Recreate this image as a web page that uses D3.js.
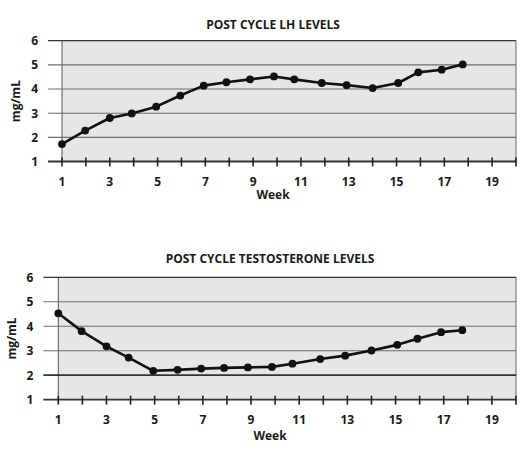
<!DOCTYPE html>
<html>
<head>
<meta charset="utf-8">
<script src="https://cdn.jsdelivr.net/npm/d3@7"></script>
<style>
  body { margin: 0; background: #fff; }
  text { font-family: 'Open Sans', 'Noto Sans', sans-serif; font-weight: 700; fill: #1a1a1a; }
</style>
</head>
<body>
<div id="chart"></div>
<script>
// Week position of each reading (points sit slightly off the tick marks)
const weeks = [1, 1.97, 3, 3.92, 4.94, 5.95, 6.93, 7.88, 8.87, 9.87, 10.72, 11.87, 12.91, 14.0, 15.07, 15.91, 16.89, 17.77]
const lhValues = [1.72, 2.28, 2.8, 2.99, 3.27, 3.73, 4.14, 4.28, 4.4, 4.52, 4.4, 4.25, 4.16, 4.04, 4.25, 4.69, 4.8, 5.02]
const testosteroneValues = [4.53, 3.8, 3.18, 2.72, 2.18, 2.22, 2.27, 2.3, 2.32, 2.34, 2.47, 2.66, 2.8, 3.01, 3.24, 3.49, 3.76, 3.84]
const yTicks = [1, 2, 3, 4, 5, 6]
const xTickMarks = d3.range(1, 21)
const xTickLabels = [1, 3, 5, 7, 9, 11, 13, 15, 17, 19]

const width = 529
const height = 453

const svg = d3.select('#chart')
  .append('svg')
  .attr('width', width)
  .attr('height', height)

const panels = [
  {
    title: 'POST CYCLE LH LEVELS', values: lhValues,
    left: 62, right: 516, top: 40.7, bottom: 161.5, tickLeft: 48,
    titleX: 273, titleY: 29, tickLabelY: 186, weekY: 199, yTitleX: 20, darkLine: null
  },
  {
    title: 'POST CYCLE TESTOSTERONE LEVELS', values: testosteroneValues,
    left: 58.3, right: 516, top: 277.3, bottom: 399.7, tickLeft: 43.3,
    titleX: 270, titleY: 263, tickLabelY: 424, weekY: 440, yTitleX: 16, darkLine: 2
  }
]

panels.forEach(p => {
  const x = d3.scaleLinear().domain([1, 20]).range([p.left, p.right])
  const y = d3.scaleLinear().domain([1, 6]).range([p.bottom, p.top])
  const g = svg.append('g')

  // Plot background
  g.append('rect')
    .attr('x', p.left)
    .attr('y', p.top)
    .attr('width', p.right - p.left)
    .attr('height', p.bottom - p.top)
    .attr('fill', '#e6e6e6')

  // Right and left borders
  g.append('line')
    .attr('x1', p.right).attr('x2', p.right)
    .attr('y1', p.top).attr('y2', p.bottom)
    .attr('stroke', '#666').attr('stroke-width', 1)
  g.append('line')
    .attr('x1', p.left).attr('x2', p.left)
    .attr('y1', p.top).attr('y2', p.bottom)
    .attr('stroke', '#555').attr('stroke-width', 1)

  // Horizontal gridlines, extending left as y ticks
  g.selectAll('.hgrid')
    .data(yTicks)
    .join('line')
    .attr('x1', p.tickLeft)
    .attr('x2', p.right)
    .attr('y1', d => y(d))
    .attr('y2', d => y(d))
    .attr('stroke', d => (d === 1 || d === 6 || d === p.darkLine) ? '#333' : '#6e6e6e')
    .attr('stroke-width', d => (d === 1 || d === p.darkLine) ? 1.8 : (d === 6 ? 1.3 : 1.1))

  // Y tick labels
  g.selectAll('.ylab')
    .data(yTicks)
    .join('text')
    .attr('x', p.tickLeft - 10)
    .attr('y', d => y(d))
    .attr('dy', '0.36em')
    .attr('text-anchor', 'end')
    .attr('font-size', 12)
    .text(d => d)

  // X tick marks crossing the axis
  g.selectAll('.xtick')
    .data(xTickMarks)
    .join('line')
    .attr('x1', d => x(d))
    .attr('x2', d => x(d))
    .attr('y1', p.bottom - 4)
    .attr('y2', p.bottom + 5)
    .attr('stroke', '#222')
    .attr('stroke-width', 1.6)

  // X tick labels
  g.selectAll('.xlab')
    .data(xTickLabels)
    .join('text')
    .attr('x', d => x(d))
    .attr('y', p.tickLabelY)
    .attr('text-anchor', 'middle')
    .attr('font-size', 12)
    .text(d => d)

  // Axis titles
  g.append('text')
    .attr('x', p.titleX)
    .attr('y', p.weekY)
    .attr('text-anchor', 'middle')
    .attr('font-size', 12)
    .text('Week')

  g.append('text')
    .attr('transform', `translate(${p.yTitleX}, ${(p.top + p.bottom) / 2}) rotate(-90)`)
    .attr('text-anchor', 'middle')
    .attr('font-size', 12)
    .text('mg/mL')

  // Chart title
  g.append('text')
    .attr('x', p.titleX)
    .attr('y', p.titleY)
    .attr('text-anchor', 'middle')
    .attr('font-size', 12)
    .text(p.title)

  // Data line and points
  const points = weeks.map((w, i) => ({ week: w, value: p.values[i] }))
  const line = d3.line()
    .x(d => x(d.week))
    .y(d => y(d.value))

  g.append('path')
    .datum(points)
    .attr('fill', 'none')
    .attr('stroke', '#111')
    .attr('stroke-width', 2.6)
    .attr('stroke-linejoin', 'round')
    .attr('d', line)

  g.selectAll('.dot')
    .data(points)
    .join('circle')
    .attr('cx', d => x(d.week))
    .attr('cy', d => y(d.value))
    .attr('r', 3.9)
    .attr('fill', '#111')
})
</script>
</body>
</html>
